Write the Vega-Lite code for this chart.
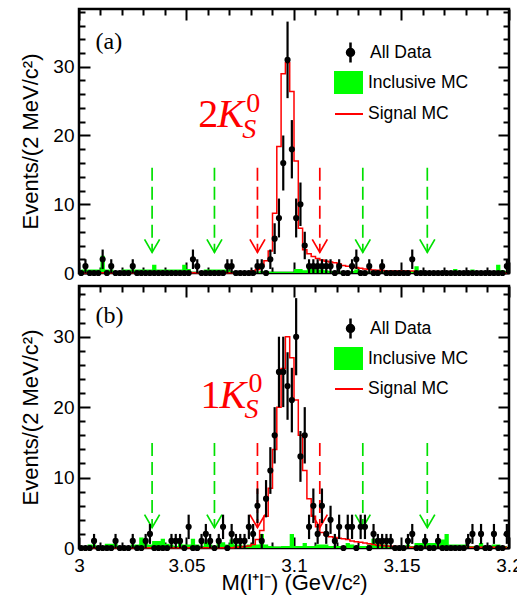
{
"$schema": "https://vega.github.io/schema/vega-lite/v6.json",
"padding": {"left": 18, "top": 6, "right": 0, "bottom": 0},
"spacing": 13,
"bounds": "flush",
"config": {
  "view": {"stroke": "#000000", "strokeWidth": 2.5},
  "font": "Liberation Sans",
  "axis": {"grid": false, "domain": false, "ticks": true, "tickOpacity": 1, "tickColor": "#000000", "labelColor": "#000000", "titleColor": "#000000", "labelFont": "Liberation Sans", "titleFont": "Liberation Sans", "labelFontSize": 19, "titleFontSize": 22, "titleFontWeight": "normal"},
  "legend": {"labelFont": "Liberation Sans", "labelFontSize": 17.5, "labelColor": "#000000", "padding": 0}
},
"datasets": {
"cuts": [{"cut":3.034,"kind":"sideband"},{"cut":3.063,"kind":"sideband"},{"cut":3.083,"kind":"signal"},{"cut":3.112,"kind":"signal"},{"cut":3.132,"kind":"sideband"},{"cut":3.162,"kind":"sideband"}],
"a": [
{"m":3.001,"n":0,"inc":0.5,"sig":0.05},
{"m":3.003,"n":1,"lo":0,"hi":2,"inc":0.5,"sig":0.05},
{"m":3.005,"n":0,"inc":0.5,"sig":0.05},
{"m":3.007,"n":0,"inc":0.5,"sig":0.05},
{"m":3.009,"n":0,"inc":0.5,"sig":0.05},
{"m":3.011,"n":2,"lo":0.586,"hi":3.414,"inc":2.5,"sig":0.05},
{"m":3.013,"n":0,"inc":0.5,"sig":0.05},
{"m":3.015,"n":1,"lo":0,"hi":2,"inc":0.5,"sig":0.05},
{"m":3.017,"n":0,"inc":0.3,"sig":0.05},
{"m":3.019,"n":0,"inc":0.3,"sig":0.05},
{"m":3.021,"n":0,"inc":0.5,"sig":0.05},
{"m":3.023,"n":0,"inc":0.5,"sig":0.05},
{"m":3.025,"n":1,"lo":0,"hi":2,"inc":0.5,"sig":0.05},
{"m":3.027,"n":0,"inc":0.5,"sig":0.05},
{"m":3.029,"n":0,"inc":0.5,"sig":0.05},
{"m":3.031,"n":0,"inc":0.5,"sig":0.05},
{"m":3.033,"n":0,"inc":0.5,"sig":0.05},
{"m":3.035,"n":0,"inc":1.2,"sig":0.05},
{"m":3.037,"n":0,"inc":0.5,"sig":0.05},
{"m":3.039,"n":0,"inc":0.5,"sig":0.05},
{"m":3.041,"n":0,"inc":0.5,"sig":0.05},
{"m":3.043,"n":0,"inc":0.5,"sig":0.05},
{"m":3.045,"n":0,"inc":0.5,"sig":0.05},
{"m":3.047,"n":0,"inc":0.5,"sig":0.05},
{"m":3.049,"n":0,"inc":1.2,"sig":0.05},
{"m":3.051,"n":0,"inc":0.6,"sig":0.05},
{"m":3.053,"n":2,"lo":0.586,"hi":3.414,"inc":0.2,"sig":0.05},
{"m":3.055,"n":1,"lo":0,"hi":2,"inc":0.2,"sig":0.05},
{"m":3.057,"n":0,"inc":0.2,"sig":0.05},
{"m":3.059,"n":0,"inc":0.5,"sig":0.05},
{"m":3.061,"n":0,"inc":0.5,"sig":0.05},
{"m":3.063,"n":0,"inc":0.5,"sig":0.05},
{"m":3.065,"n":0,"inc":0.5,"sig":0.05},
{"m":3.067,"n":0,"inc":0.5,"sig":0.05},
{"m":3.069,"n":1,"lo":0,"hi":2,"inc":0.5,"sig":0.05},
{"m":3.071,"n":1,"lo":0,"hi":2,"inc":0.3,"sig":0.05},
{"m":3.073,"n":0,"inc":0.2,"sig":0.1},
{"m":3.075,"n":0,"inc":0.2,"sig":0.1},
{"m":3.077,"n":0,"inc":0.2,"sig":0.2},
{"m":3.079,"n":0,"inc":0.2,"sig":0.2},
{"m":3.081,"n":0,"inc":0.2,"sig":0.3},
{"m":3.083,"n":1,"lo":0,"hi":2,"inc":0.2,"sig":0.5},
{"m":3.085,"n":1,"lo":0,"hi":2,"inc":0.3,"sig":1.0},
{"m":3.087,"n":0,"inc":0.3,"sig":1.8},
{"m":3.089,"n":2,"lo":0.586,"hi":3.414,"inc":0.2,"sig":3.2},
{"m":3.091,"n":5,"lo":2.764,"hi":7.236,"inc":0.2,"sig":8.7},
{"m":3.093,"n":8,"lo":5.172,"hi":10.828,"inc":0.2,"sig":18.4},
{"m":3.095,"n":16,"lo":12,"hi":20,"inc":0.2,"sig":29},
{"m":3.097,"n":31,"lo":25.432,"hi":36.568,"inc":0.2,"sig":30.6},
{"m":3.099,"n":18,"lo":13.757,"hi":22.243,"inc":0.2,"sig":26.4},
{"m":3.101,"n":8,"lo":5.172,"hi":10.828,"inc":0.6,"sig":16.3},
{"m":3.103,"n":10,"lo":6.838,"hi":13.162,"inc":0.6,"sig":6.5},
{"m":3.105,"n":4,"lo":2,"hi":6,"inc":0.4,"sig":3.4},
{"m":3.107,"n":1,"lo":0,"hi":2,"inc":0.8,"sig":2.8},
{"m":3.109,"n":1,"lo":0,"hi":2,"inc":0.6,"sig":2.4},
{"m":3.111,"n":1,"lo":0,"hi":2,"inc":0.5,"sig":2.1},
{"m":3.113,"n":1,"lo":0,"hi":2,"inc":0.5,"sig":1.9},
{"m":3.115,"n":1,"lo":0,"hi":2,"inc":0.4,"sig":1.7},
{"m":3.117,"n":1,"lo":0,"hi":2,"inc":0.3,"sig":1.6},
{"m":3.119,"n":0,"inc":0.3,"sig":1.5},
{"m":3.121,"n":1,"lo":0,"hi":2,"inc":0.2,"sig":1.3},
{"m":3.123,"n":0,"inc":0.3,"sig":1.1},
{"m":3.125,"n":0,"inc":0.3,"sig":1.0},
{"m":3.127,"n":1,"lo":0,"hi":2,"inc":0.3,"sig":0.9},
{"m":3.129,"n":2,"lo":0.586,"hi":3.414,"inc":0.5,"sig":0.8},
{"m":3.131,"n":0,"inc":0.3,"sig":0.7},
{"m":3.133,"n":0,"inc":0.2,"sig":0.6},
{"m":3.135,"n":1,"lo":0,"hi":2,"inc":0.2,"sig":0.5},
{"m":3.137,"n":0,"inc":0.2,"sig":0.45},
{"m":3.139,"n":0,"inc":0.2,"sig":0.4},
{"m":3.141,"n":1,"lo":0,"hi":2,"inc":0.2,"sig":0.35},
{"m":3.143,"n":0,"inc":0.2,"sig":0.3},
{"m":3.145,"n":0,"inc":0.1,"sig":0.3},
{"m":3.147,"n":0,"inc":0.1,"sig":0.3},
{"m":3.149,"n":0,"inc":0.1,"sig":0.3},
{"m":3.151,"n":0,"inc":0.1,"sig":0.3},
{"m":3.153,"n":0,"inc":0.2,"sig":0.3},
{"m":3.155,"n":2,"lo":0.586,"hi":3.414,"inc":0.3,"sig":0.3},
{"m":3.157,"n":0,"inc":1.0,"sig":0.2},
{"m":3.159,"n":0,"inc":0.3,"sig":0.15},
{"m":3.161,"n":0,"inc":0.1,"sig":0.05},
{"m":3.163,"n":0,"inc":0.1,"sig":0.05},
{"m":3.165,"n":0,"inc":0.1,"sig":0.05},
{"m":3.167,"n":0,"inc":0.1,"sig":0.05},
{"m":3.169,"n":0,"inc":0.1,"sig":0.05},
{"m":3.171,"n":0,"inc":0.1,"sig":0.05},
{"m":3.173,"n":0,"inc":0.1,"sig":0.05},
{"m":3.175,"n":0,"inc":0.6,"sig":0.05},
{"m":3.177,"n":0,"inc":0.1,"sig":0.05},
{"m":3.179,"n":0,"inc":0.1,"sig":0.05},
{"m":3.181,"n":0,"inc":0.1,"sig":0.05},
{"m":3.183,"n":0,"inc":0.5,"sig":0.05},
{"m":3.185,"n":0,"inc":0.1,"sig":0.05},
{"m":3.187,"n":0,"inc":0.1,"sig":0.05},
{"m":3.189,"n":0,"inc":0.1,"sig":0.05},
{"m":3.191,"n":0,"inc":0.1,"sig":0.05},
{"m":3.193,"n":0,"inc":0.1,"sig":0.05},
{"m":3.195,"n":0,"inc":1.2,"sig":0.05},
{"m":3.197,"n":0,"inc":0.4,"sig":0.05},
{"m":3.199,"n":1,"lo":0,"hi":2,"inc":0.3,"sig":0.05}
],
"b": [
{"m":3.001,"n":0,"inc":0.3,"sig":0.05},
{"m":3.003,"n":0,"inc":0.3,"sig":0.05},
{"m":3.005,"n":0,"inc":0.5,"sig":0.05},
{"m":3.007,"n":1,"lo":0,"hi":2,"inc":0.5,"sig":0.05},
{"m":3.009,"n":0,"inc":0.3,"sig":0.05},
{"m":3.011,"n":0,"inc":0.3,"sig":0.05},
{"m":3.013,"n":0,"inc":0.6,"sig":0.05},
{"m":3.015,"n":0,"inc":0.6,"sig":0.05},
{"m":3.017,"n":1,"lo":0,"hi":2,"inc":0.6,"sig":0.05},
{"m":3.019,"n":0,"inc":0.3,"sig":0.05},
{"m":3.021,"n":0,"inc":0.3,"sig":0.05},
{"m":3.023,"n":0,"inc":0.3,"sig":0.05},
{"m":3.025,"n":1,"lo":0,"hi":2,"inc":0.5,"sig":0.05},
{"m":3.027,"n":0,"inc":0.5,"sig":0.05},
{"m":3.029,"n":0,"inc":1.5,"sig":0.05},
{"m":3.031,"n":1,"lo":0,"hi":2,"inc":1.0,"sig":0.05},
{"m":3.033,"n":2,"lo":0.586,"hi":3.414,"inc":0.5,"sig":0.05},
{"m":3.035,"n":0,"inc":1.0,"sig":0.05},
{"m":3.037,"n":0,"inc":1.0,"sig":0.05},
{"m":3.039,"n":0,"inc":1.3,"sig":0.05},
{"m":3.041,"n":0,"inc":0.6,"sig":0.05},
{"m":3.043,"n":1,"lo":0,"hi":2,"inc":0.5,"sig":0.05},
{"m":3.045,"n":1,"lo":0,"hi":2,"inc":0.3,"sig":0.05},
{"m":3.047,"n":1,"lo":0,"hi":2,"inc":0.8,"sig":0.05},
{"m":3.049,"n":0,"inc":0.5,"sig":0.05},
{"m":3.051,"n":3,"lo":1.268,"hi":4.732,"inc":0.5,"sig":0.05},
{"m":3.053,"n":0,"inc":1.3,"sig":0.05},
{"m":3.055,"n":0,"inc":0.5,"sig":0.05},
{"m":3.057,"n":1,"lo":0,"hi":2,"inc":0.3,"sig":0.05},
{"m":3.059,"n":2,"lo":0.586,"hi":3.414,"inc":0.8,"sig":0.05},
{"m":3.061,"n":1,"lo":0,"hi":2,"inc":0.5,"sig":0.05},
{"m":3.063,"n":0,"inc":0.3,"sig":0.05},
{"m":3.065,"n":1,"lo":0,"hi":2,"inc":0.8,"sig":0.05},
{"m":3.067,"n":3,"lo":1.268,"hi":4.732,"inc":0.8,"sig":0.05},
{"m":3.069,"n":0,"inc":0.5,"sig":0.05},
{"m":3.071,"n":2,"lo":0.586,"hi":3.414,"inc":1.2,"sig":0.05},
{"m":3.073,"n":1,"lo":0,"hi":2,"inc":0.5,"sig":0.1},
{"m":3.075,"n":1,"lo":0,"hi":2,"inc":0.5,"sig":0.15},
{"m":3.077,"n":1,"lo":0,"hi":2,"inc":0.3,"sig":0.2},
{"m":3.079,"n":3,"lo":1.268,"hi":4.732,"inc":0.5,"sig":0.3},
{"m":3.081,"n":2,"lo":0.586,"hi":3.414,"inc":0.5,"sig":0.5},
{"m":3.083,"n":6,"lo":3.551,"hi":8.449,"inc":0.5,"sig":1.2},
{"m":3.085,"n":1,"lo":0,"hi":2,"inc":2.0,"sig":2.5},
{"m":3.087,"n":7,"lo":4.354,"hi":9.646,"inc":0.5,"sig":4.5},
{"m":3.089,"n":11,"lo":7.683,"hi":14.317,"inc":0.3,"sig":8.5},
{"m":3.091,"n":16,"lo":12,"hi":20,"inc":0.2,"sig":14},
{"m":3.093,"n":25,"lo":20,"hi":30,"inc":0.2,"sig":20},
{"m":3.095,"n":25,"lo":20,"hi":30,"inc":0.3,"sig":25.5},
{"m":3.097,"n":23,"lo":18.204,"hi":27.796,"inc":0.3,"sig":30},
{"m":3.099,"n":21,"lo":16.417,"hi":25.583,"inc":2.0,"sig":27},
{"m":3.101,"n":30,"lo":24.523,"hi":35.477,"inc":0.3,"sig":21},
{"m":3.103,"n":13,"lo":9.394,"hi":16.606,"inc":0.3,"sig":16},
{"m":3.105,"n":16,"lo":12,"hi":20,"inc":0.7,"sig":11},
{"m":3.107,"n":3,"lo":1.268,"hi":4.732,"inc":0.3,"sig":7},
{"m":3.109,"n":6,"lo":3.551,"hi":8.449,"inc":0.3,"sig":4.5},
{"m":3.111,"n":2,"lo":0.586,"hi":3.414,"inc":0.5,"sig":3},
{"m":3.113,"n":6,"lo":3.551,"hi":8.449,"inc":0.5,"sig":2.2},
{"m":3.115,"n":2,"lo":0.586,"hi":3.414,"inc":0.5,"sig":1.8},
{"m":3.117,"n":4,"lo":2,"hi":6,"inc":0.3,"sig":1.6},
{"m":3.119,"n":1,"lo":0,"hi":2,"inc":0.3,"sig":1.5},
{"m":3.121,"n":3,"lo":1.268,"hi":4.732,"inc":0.3,"sig":1.4},
{"m":3.123,"n":0,"inc":0.3,"sig":1.3},
{"m":3.125,"n":3,"lo":1.268,"hi":4.732,"inc":0.7,"sig":1.2},
{"m":3.127,"n":3,"lo":1.268,"hi":4.732,"inc":0.5,"sig":1.0},
{"m":3.129,"n":0,"inc":0.3,"sig":0.9},
{"m":3.131,"n":3,"lo":1.268,"hi":4.732,"inc":0.3,"sig":0.8},
{"m":3.133,"n":3,"lo":1.268,"hi":4.732,"inc":0.3,"sig":0.7},
{"m":3.135,"n":0,"inc":0.5,"sig":0.6},
{"m":3.137,"n":2,"lo":0.586,"hi":3.414,"inc":1.3,"sig":0.5},
{"m":3.139,"n":1,"lo":0,"hi":2,"inc":0.5,"sig":0.4},
{"m":3.141,"n":1,"lo":0,"hi":2,"inc":0.5,"sig":0.35},
{"m":3.143,"n":1,"lo":0,"hi":2,"inc":0.5,"sig":0.3},
{"m":3.145,"n":1,"lo":0,"hi":2,"inc":0.3,"sig":0.25},
{"m":3.147,"n":0,"inc":0.3,"sig":0.2},
{"m":3.149,"n":0,"inc":0.3,"sig":0.1},
{"m":3.151,"n":0,"inc":0.3,"sig":0.1},
{"m":3.153,"n":1,"lo":0,"hi":2,"inc":0.5,"sig":0.1},
{"m":3.155,"n":2,"lo":0.586,"hi":3.414,"inc":0.3,"sig":0.1},
{"m":3.157,"n":0,"inc":0.7,"sig":0.1},
{"m":3.159,"n":0,"inc":0.7,"sig":0.1},
{"m":3.161,"n":1,"lo":0,"hi":2,"inc":0.7,"sig":0.1},
{"m":3.163,"n":0,"inc":0.7,"sig":0.1},
{"m":3.165,"n":0,"inc":0.7,"sig":0.1},
{"m":3.167,"n":1,"lo":0,"hi":2,"inc":1.2,"sig":0.1},
{"m":3.169,"n":0,"inc":1.2,"sig":0.1},
{"m":3.171,"n":0,"inc":2.0,"sig":0.1},
{"m":3.173,"n":0,"inc":0.5,"sig":0.1},
{"m":3.175,"n":0,"inc":0.5,"sig":0.1},
{"m":3.177,"n":0,"inc":0.5,"sig":0.1},
{"m":3.179,"n":0,"inc":0.5,"sig":0.1},
{"m":3.181,"n":1,"lo":0,"hi":2,"inc":0.3,"sig":0.1},
{"m":3.183,"n":2,"lo":0.586,"hi":3.414,"inc":0.3,"sig":0.1},
{"m":3.185,"n":0,"inc":0.3,"sig":0.1},
{"m":3.187,"n":2,"lo":0.586,"hi":3.414,"inc":0.7,"sig":0.1},
{"m":3.189,"n":0,"inc":0.3,"sig":0.1},
{"m":3.191,"n":0,"inc":0.3,"sig":0.1},
{"m":3.193,"n":2,"lo":0.586,"hi":3.414,"inc":0.5,"sig":0.1},
{"m":3.195,"n":0,"inc":0.5,"sig":0.1},
{"m":3.197,"n":0,"inc":0.3,"sig":0.1},
{"m":3.199,"n":2,"lo":0.586,"hi":3.414,"inc":0.3,"sig":0.1}
]
},
"vconcat": [
{
  "width": 430, "height": 264,
  "data": {"name": "a"},
  "resolve": {"axis": {"x": "independent", "y": "independent"}},
  "layer": [
    {"mark": {"type": "area", "interpolate": "step"},
     "encoding": {
       "x": {"field": "m", "type": "quantitative", "scale": {"domain": [3, 3.2], "nice": false, "zero": false}, "axis": {"orient": "top", "values": [3,3.01,3.02,3.03,3.04,3.05,3.06,3.07,3.08,3.09,3.1,3.11,3.12,3.13,3.14,3.15,3.16,3.17,3.18,3.19,3.2], "labels": false, "ticks": true, "tickSize": {"condition": {"test": "abs(datum.value * 20 - round(datum.value * 20)) < 0.001", "value": -11}, "value": -6}, "tickWidth": 2, "title": null}},
       "y": {"field": "inc", "type": "quantitative", "scale": {"domain": [0, 38.4], "nice": false}, "axis": {"orient": "right", "values": [0,2,4,6,8,10,12,14,16,18,20,22,24,26,28,30,32,34,36,38], "labels": false, "ticks": true, "tickSize": {"condition": {"test": "datum.value % 10 === 0", "value": -11}, "value": -6}, "tickWidth": 2, "title": null}},
       "fill": {"datum": "Inclusive MC", "type": "nominal", "scale": {"range": ["#00ff00"]}, "legend": {"title": null, "orient": "none", "legendX": 258, "legendY": 62, "symbolType": "M-1.26,-1L1.26,-1L1.26,1L-1.26,1Z", "symbolSize": 529, "symbolStrokeWidth": 0, "labelOffset": 8}}
     }},
    {"mark": {"type": "line", "interpolate": "step", "strokeWidth": 1.5},
     "encoding": {
       "x": {"field": "m", "type": "quantitative", "scale": {"domain": [3, 3.2], "nice": false, "zero": false}, "axis": null},
       "y": {"field": "sig", "type": "quantitative", "scale": {"domain": [0, 38.4], "nice": false}, "axis": null},
       "stroke": {"datum": "Signal MC", "type": "nominal", "scale": {"range": ["#ff0000"]}, "legend": {"title": null, "orient": "none", "legendX": 255, "legendY": 90, "symbolType": "stroke", "symbolSize": 784, "symbolStrokeWidth": 2, "labelOffset": 4}}
     }},
    {"data": {"name": "cuts"},
     "mark": {"type": "rule", "strokeDash": [13, 6], "strokeWidth": 1.7},
     "encoding": {
       "x": {"field": "cut", "type": "quantitative", "axis": null},
       "y": {"datum": 15.3, "axis": null},
       "y2": {"datum": 3},
       "stroke": {"condition": {"test": "datum.kind === 'signal'", "value": "#ff0000"}, "value": "#00e000"}
     }},
    {"data": {"name": "cuts"},
     "mark": {"type": "point", "shape": "M-0.58,-1L0,0L0.58,-1", "size": 676, "filled": false, "strokeWidth": 1.7, "opacity": 1},
     "encoding": {
       "x": {"field": "cut", "type": "quantitative", "axis": null},
       "y": {"datum": 3, "axis": null},
       "stroke": {"condition": {"test": "datum.kind === 'signal'", "value": "#ff0000"}, "value": "#00e000"}
     }},
    {"transform": [{"filter": "datum.n > 0"}],
     "mark": {"type": "rule", "strokeWidth": 2.2},
     "encoding": {
       "x": {"field": "m", "type": "quantitative", "scale": {"domain": [3, 3.2], "nice": false, "zero": false}, "axis": null},
       "y": {"field": "lo", "type": "quantitative", "scale": {"domain": [0, 38.4], "nice": false}, "axis": null},
       "y2": {"field": "hi"},
       "color": {"datum": "All Data", "type": "nominal"}
     }},
    {"mark": {"type": "point", "filled": true, "size": 38, "opacity": 1},
     "encoding": {
       "x": {"field": "m", "type": "quantitative", "scale": {"domain": [3, 3.2], "nice": false, "zero": false}, "axis": {"orient": "bottom", "values": [3,3.01,3.02,3.03,3.04,3.05,3.06,3.07,3.08,3.09,3.1,3.11,3.12,3.13,3.14,3.15,3.16,3.17,3.18,3.19,3.2], "labels": false, "ticks": true, "tickSize": {"condition": {"test": "abs(datum.value * 20 - round(datum.value * 20)) < 0.001", "value": -11}, "value": -6}, "tickWidth": 2, "title": null}},
       "y": {"field": "n", "type": "quantitative", "scale": {"domain": [0, 38.4], "nice": false}, "axis": {"orient": "left", "values": [0,2,4,6,8,10,12,14,16,18,20,22,24,26,28,30,32,34,36,38], "labelExpr": "datum.value % 10 === 0 ? datum.label : ''", "ticks": true, "tickSize": {"condition": {"test": "datum.value % 10 === 0", "value": -11}, "value": -6}, "tickWidth": 2, "labelPadding": 16, "title": "Events/(2 MeV/c²)", "titlePadding": 10}},
       "color": {"datum": "All Data", "type": "nominal", "scale": {"range": ["#000000"]}, "legend": {"title": null, "orient": "none", "legendX": 260, "legendY": 32, "symbolType": "M0,-1L0,1M0.35,0A0.35,0.35,0,1,1,-0.35,0A0.35,0.35,0,1,1,0.35,0Z", "symbolSize": 400, "symbolStrokeWidth": 2.5, "symbolStrokeColor": "#000000", "symbolFillColor": "#000000", "labelOffset": 8}}
     }},
    {"data": {"values": [{}]},
     "mark": {"type": "text", "text": "(a)", "font": "Liberation Serif", "fontSize": 24, "align": "left", "baseline": "alphabetic", "color": "#000000"},
     "encoding": {"x": {"datum": 3.0077, "axis": null}, "y": {"datum": 32.6, "axis": null}}},
    {"data": {"values": [{}]},
     "mark": {"type": "text", "text": "2", "font": "Liberation Serif", "fontSize": 40, "align": "left", "baseline": "alphabetic", "color": "#ff0000"},
     "encoding": {"x": {"datum": 3.0555, "axis": null}, "y": {"datum": 21.25, "axis": null}}},
    {"data": {"values": [{}]},
     "mark": {"type": "text", "text": "K", "font": "Liberation Serif", "fontStyle": "italic", "fontSize": 40, "align": "left", "baseline": "alphabetic", "color": "#ff0000", "dx": 19},
     "encoding": {"x": {"datum": 3.0555, "axis": null}, "y": {"datum": 21.25, "axis": null}}},
    {"data": {"values": [{}]},
     "mark": {"type": "text", "text": "S", "font": "Liberation Serif", "fontStyle": "italic", "fontSize": 28, "align": "left", "baseline": "alphabetic", "color": "#ff0000", "dx": 44, "dy": 11},
     "encoding": {"x": {"datum": 3.0555, "axis": null}, "y": {"datum": 21.25, "axis": null}}},
    {"data": {"values": [{}]},
     "mark": {"type": "text", "text": "0", "font": "Liberation Serif", "fontSize": 28, "align": "left", "baseline": "alphabetic", "color": "#ff0000", "dx": 48, "dy": -15},
     "encoding": {"x": {"datum": 3.0555, "axis": null}, "y": {"datum": 21.25, "axis": null}}}
  ]
},
{
  "width": 430, "height": 262,
  "data": {"name": "b"},
  "resolve": {"axis": {"x": "independent", "y": "independent"}},
  "layer": [
    {"mark": {"type": "area", "interpolate": "step"},
     "encoding": {
       "x": {"field": "m", "type": "quantitative", "scale": {"domain": [3, 3.2], "nice": false, "zero": false}, "axis": {"orient": "top", "values": [3,3.01,3.02,3.03,3.04,3.05,3.06,3.07,3.08,3.09,3.1,3.11,3.12,3.13,3.14,3.15,3.16,3.17,3.18,3.19,3.2], "labels": false, "ticks": true, "tickSize": {"condition": {"test": "abs(datum.value * 20 - round(datum.value * 20)) < 0.001", "value": -11}, "value": -6}, "tickWidth": 2, "title": null}},
       "y": {"field": "inc", "type": "quantitative", "scale": {"domain": [0, 37.2], "nice": false}, "axis": {"orient": "right", "values": [0,2,4,6,8,10,12,14,16,18,20,22,24,26,28,30,32,34,36], "labels": false, "ticks": true, "tickSize": {"condition": {"test": "datum.value % 10 === 0", "value": -11}, "value": -6}, "tickWidth": 2, "title": null}},
       "fill": {"datum": "Inclusive MC", "type": "nominal", "scale": {"range": ["#00ff00"]}, "legend": {"title": null, "orient": "none", "legendX": 258, "legendY": 61, "symbolType": "M-1.26,-1L1.26,-1L1.26,1L-1.26,1Z", "symbolSize": 529, "symbolStrokeWidth": 0, "labelOffset": 8}}
     }},
    {"mark": {"type": "line", "interpolate": "step", "strokeWidth": 1.5},
     "encoding": {
       "x": {"field": "m", "type": "quantitative", "scale": {"domain": [3, 3.2], "nice": false, "zero": false}, "axis": null},
       "y": {"field": "sig", "type": "quantitative", "scale": {"domain": [0, 37.2], "nice": false}, "axis": null},
       "stroke": {"datum": "Signal MC", "type": "nominal", "scale": {"range": ["#ff0000"]}, "legend": {"title": null, "orient": "none", "legendX": 255, "legendY": 88, "symbolType": "stroke", "symbolSize": 784, "symbolStrokeWidth": 2, "labelOffset": 4}}
     }},
    {"data": {"name": "cuts"},
     "mark": {"type": "rule", "strokeDash": [13, 6], "strokeWidth": 1.7},
     "encoding": {
       "x": {"field": "cut", "type": "quantitative", "axis": null},
       "y": {"datum": 14.9, "axis": null},
       "y2": {"datum": 2.9},
       "stroke": {"condition": {"test": "datum.kind === 'signal'", "value": "#ff0000"}, "value": "#00e000"}
     }},
    {"data": {"name": "cuts"},
     "mark": {"type": "point", "shape": "M-0.58,-1L0,0L0.58,-1", "size": 676, "filled": false, "strokeWidth": 1.7, "opacity": 1},
     "encoding": {
       "x": {"field": "cut", "type": "quantitative", "axis": null},
       "y": {"datum": 2.9, "axis": null},
       "stroke": {"condition": {"test": "datum.kind === 'signal'", "value": "#ff0000"}, "value": "#00e000"}
     }},
    {"transform": [{"filter": "datum.n > 0"}],
     "mark": {"type": "rule", "strokeWidth": 2.2},
     "encoding": {
       "x": {"field": "m", "type": "quantitative", "scale": {"domain": [3, 3.2], "nice": false, "zero": false}, "axis": null},
       "y": {"field": "lo", "type": "quantitative", "scale": {"domain": [0, 37.2], "nice": false}, "axis": null},
       "y2": {"field": "hi"},
       "color": {"datum": "All Data", "type": "nominal"}
     }},
    {"mark": {"type": "point", "filled": true, "size": 38, "opacity": 1},
     "encoding": {
       "x": {"field": "m", "type": "quantitative", "scale": {"domain": [3, 3.2], "nice": false, "zero": false}, "axis": {"orient": "bottom", "values": [3,3.01,3.02,3.03,3.04,3.05,3.06,3.07,3.08,3.09,3.1,3.11,3.12,3.13,3.14,3.15,3.16,3.17,3.18,3.19,3.2], "format": "~g", "labelExpr": "abs(datum.value * 20 - round(datum.value * 20)) < 0.001 ? datum.label : ''", "labelFlush": false, "labelOverlap": false, "ticks": true, "tickSize": {"condition": {"test": "abs(datum.value * 20 - round(datum.value * 20)) < 0.001", "value": -11}, "value": -6}, "tickWidth": 2, "labelPadding": 19, "title": "M(l⁺l⁻) (GeV/c²)", "titlePadding": -8}},
       "y": {"field": "n", "type": "quantitative", "scale": {"domain": [0, 37.2], "nice": false}, "axis": {"orient": "left", "values": [0,2,4,6,8,10,12,14,16,18,20,22,24,26,28,30,32,34,36], "labelExpr": "datum.value % 10 === 0 ? datum.label : ''", "ticks": true, "tickSize": {"condition": {"test": "datum.value % 10 === 0", "value": -11}, "value": -6}, "tickWidth": 2, "labelPadding": 16, "title": "Events/(2 MeV/c²)", "titlePadding": 10}},
       "color": {"datum": "All Data", "type": "nominal", "scale": {"range": ["#000000"]}, "legend": {"title": null, "orient": "none", "legendX": 260, "legendY": 31, "symbolType": "M0,-1L0,1M0.35,0A0.35,0.35,0,1,1,-0.35,0A0.35,0.35,0,1,1,0.35,0Z", "symbolSize": 400, "symbolStrokeWidth": 2.5, "symbolStrokeColor": "#000000", "symbolFillColor": "#000000", "labelOffset": 8}}
     }},
    {"data": {"values": [{}]},
     "mark": {"type": "text", "text": "(b)", "font": "Liberation Serif", "fontSize": 24, "align": "left", "baseline": "alphabetic", "color": "#000000"},
     "encoding": {"x": {"datum": 3.0077, "axis": null}, "y": {"datum": 32.0, "axis": null}}},
    {"data": {"values": [{}]},
     "mark": {"type": "text", "text": "1", "font": "Liberation Serif", "fontSize": 40, "align": "left", "baseline": "alphabetic", "color": "#ff0000"},
     "encoding": {"x": {"datum": 3.0565, "axis": null}, "y": {"datum": 19.9, "axis": null}}},
    {"data": {"values": [{}]},
     "mark": {"type": "text", "text": "K", "font": "Liberation Serif", "fontStyle": "italic", "fontSize": 40, "align": "left", "baseline": "alphabetic", "color": "#ff0000", "dx": 19},
     "encoding": {"x": {"datum": 3.0565, "axis": null}, "y": {"datum": 19.9, "axis": null}}},
    {"data": {"values": [{}]},
     "mark": {"type": "text", "text": "S", "font": "Liberation Serif", "fontStyle": "italic", "fontSize": 28, "align": "left", "baseline": "alphabetic", "color": "#ff0000", "dx": 44, "dy": 10},
     "encoding": {"x": {"datum": 3.0565, "axis": null}, "y": {"datum": 19.9, "axis": null}}},
    {"data": {"values": [{}]},
     "mark": {"type": "text", "text": "0", "font": "Liberation Serif", "fontSize": 28, "align": "left", "baseline": "alphabetic", "color": "#ff0000", "dx": 48, "dy": -16},
     "encoding": {"x": {"datum": 3.0565, "axis": null}, "y": {"datum": 19.9, "axis": null}}}
  ]
}
],
"resolve": {
  "scale": {"color": "independent", "fill": "independent", "stroke": "independent"},
  "legend": {"color": "independent", "fill": "independent", "stroke": "independent"}
}
}
